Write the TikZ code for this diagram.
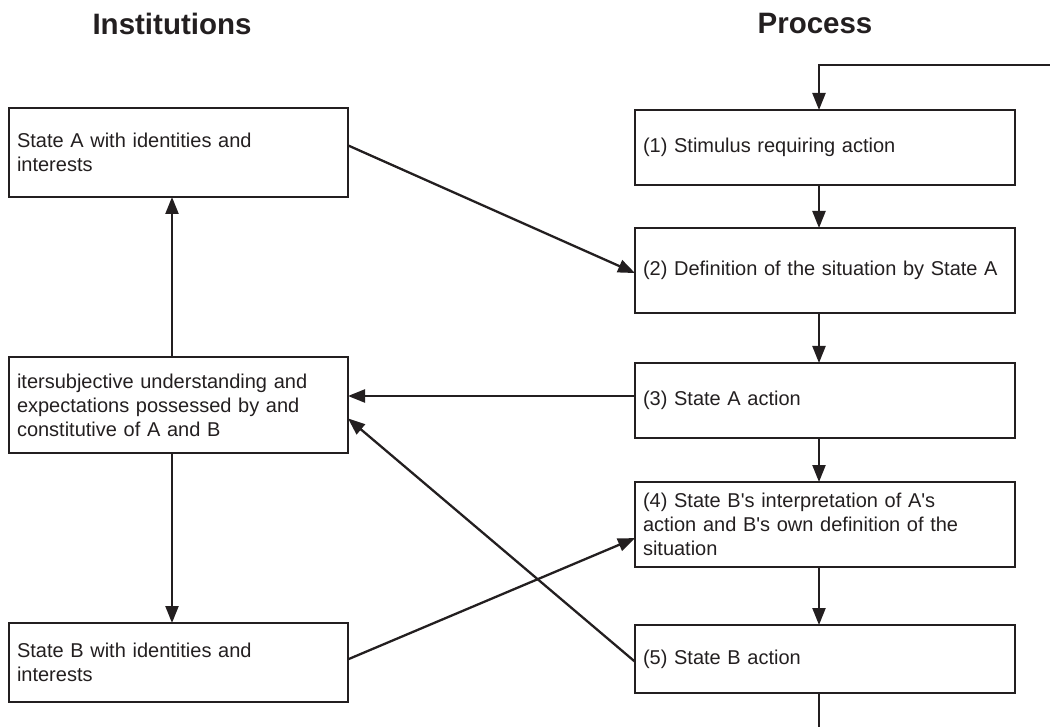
\documentclass[tikz,border=0pt]{standalone}
\usepackage{fontspec}
\setmainfont{Liberation Sans}
\usetikzlibrary{arrows.meta,calc}
\definecolor{ink}{HTML}{231F20}
\tikzset{%
    >={Triangle[length=17pt,width=13pt]}
}

\begin{document}
\begin{tikzpicture}[x=1pt, y=-1pt, line width=2.3pt, color=ink,
  box/.style={draw, anchor=north west, align=left, outer sep=0pt, inner xsep=8pt,
    font=\fontsize{20}{24}\selectfont},
  instbox/.style={box, text width=323pt},
  procbox/.style={box, text width=364pt},
  heading/.style={font=\fontsize{29.5}{34}\selectfont\bfseries}]
  \useasboundingbox (0,0) rectangle (1050,727);

  \node[heading] (tinst) at (172,24) {Institutions};
  \node[heading] (tproc) at (815,24) {Process};

  % institutions
  \node[instbox, minimum height=89pt] (instA) at (9,108) {State A with identities and\\ interests};
  \node[instbox, minimum height=96pt] (inter) at (9,357) {itersubjective understanding and\\ expectations possessed by and\\ constitutive of A and B};
  \node[instbox, minimum height=79pt] (instB) at (9,623) {State B with identities and\\ interests};

  % process
  \node[procbox, minimum height=75pt] (p1) at (635,110) {(1) Stimulus requiring action};
  \node[procbox, minimum height=85pt] (p2) at (635,228) {(2) Definition of the situation by State A};
  \node[procbox, minimum height=75pt] (p3) at (635,363) {(3) State A action};
  \node[procbox, minimum height=85pt] (p4) at (635,482) {(4) State B\textquotesingle s interpretation of A\textquotesingle s\\ action and B\textquotesingle s own definition of the\\ situation};
  \node[procbox, minimum height=68pt] (p5) at (635,625) {(5) State B action};

  \coordinate (lx) at (172,0);
  \coordinate (rx) at (819,0);
  \coordinate (loopin) at (1050,65);
  \coordinate (loopout) at (819,727);

  \draw[->] (inter.north -| lx) -- (instA.south -| lx);
  \draw[->] (inter.south -| lx) -- (instB.north -| lx);

  \draw[->] (loopin) -- (loopin -| rx) -- (p1.north -| rx);
  \draw[->] (p1.south -| rx) -- (p2.north -| rx);
  \draw[->] (p2.south -| rx) -- (p3.north -| rx);
  \draw[->] (p3.south -| rx) -- (p4.north -| rx);
  \draw[->] (p4.south -| rx) -- (p5.north -| rx);
  \draw (p5.south -| rx) -- (loopout);

  \coordinate (p3w) at ($(p3.north west)!0.44!(p3.south west)$);
  \draw[->] ($(instA.north east)!0.42!(instA.south east)$) -- ($(p2.north west)!0.53!(p2.south west)$);
  \draw[->] (p3w) -- (p3w -| inter.east);
  \draw[->] ($(p5.north west)!0.54!(p5.south west)$) -- ($(inter.north east)!0.64!(inter.south east)$);
  \draw[->] ($(instB.north east)!0.46!(instB.south east)$) -- ($(p4.north west)!0.66!(p4.south west)$);
\end{tikzpicture}
\end{document}
